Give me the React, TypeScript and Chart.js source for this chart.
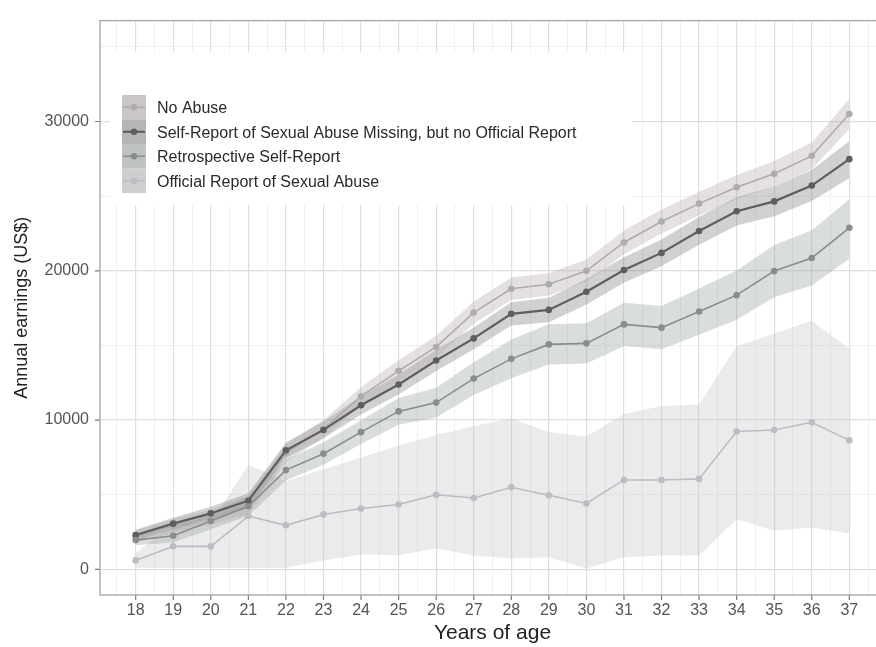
import React, { useEffect, useRef } from "react";
import { Chart, registerables } from "chart.js";

Chart.register(...registerables);

// Age in years (x axis)
const ages = [18, 19, 20, 21, 22, 23, 24, 25, 26, 27, 28, 29, 30, 31, 32, 33, 34, 35, 36, 37];

// Mean annual earnings (US$) with lower / upper confidence bounds per group
const noAbuse = [2200, 2900, 3500, 4300, 7800, 9400, 11600, 13300, 14900, 17200, 18800, 19100, 20000, 21900, 23300, 24500, 25600, 26500, 27700, 30500];
const noAbuseHi = [2600, 3350, 4000, 4900, 8400, 10000, 12200, 14000, 15650, 17950, 19550, 19850, 20750, 22700, 24100, 25300, 26400, 27350, 28600, 31500];
const noAbuseLo = [1800, 2450, 3000, 3700, 7200, 8800, 11000, 12600, 14150, 16450, 18050, 18350, 19250, 21100, 22500, 23700, 24800, 25650, 26800, 29500];

const selfMissing = [2300, 3060, 3750, 4600, 7980, 9340, 10990, 12380, 13990, 15470, 17120, 17380, 18600, 20050, 21200, 22670, 23990, 24650, 25710, 27480];
const selfMissingHi = [2650, 3450, 4200, 5100, 8500, 9900, 11600, 13050, 14700, 16200, 17900, 18200, 19450, 20900, 22100, 23600, 24950, 25650, 26750, 28700];
const selfMissingLo = [1950, 2670, 3300, 4100, 7460, 8780, 10380, 11710, 13280, 14740, 16340, 16560, 17750, 19200, 20300, 21740, 23030, 23650, 24670, 26200];

const retrospective = [1960, 2250, 3240, 4230, 6650, 7750, 9190, 10580, 11170, 12780, 14100, 15070, 15140, 16410, 16190, 17270, 18370, 19980, 20860, 22880];
const retrospectiveHi = [2310, 2700, 3790, 4880, 7350, 8500, 9990, 11480, 12170, 13880, 15400, 16420, 16490, 17860, 17640, 18820, 20020, 21730, 22710, 24800];
const retrospectiveLo = [1610, 1800, 2690, 3580, 5950, 7000, 8390, 9680, 10170, 11680, 12800, 13720, 13790, 14960, 14740, 15720, 16720, 18230, 19010, 20800];

const official = [600, 1540, 1540, 3570, 2950, 3680, 4080, 4340, 5000, 4780, 5500, 4960, 4410, 5990, 5990, 6060, 9230, 9340, 9850, 8640];
const officialHi = [1100, 3000, 3100, 7000, 5900, 6700, 7500, 8300, 9000, 9600, 10100, 9200, 8900, 10400, 10950, 11050, 14950, 15800, 16650, 14800];
const officialLo = [100, 100, 100, 100, 100, 590, 1000, 950, 1390, 930, 730, 810, 50, 810, 920, 920, 3350, 2580, 2800, 2400];

// Axis breaks
const yMajorTicks = [0, 10000, 20000, 30000];
const yMinorTicks = [5000, 15000, 25000, 35000];

const groupLabels = [
  "No Abuse",
  "Self-Report of Sexual Abuse Missing, but no Official Report",
  "Retrospective Self-Report",
  "Official Report of Sexual Abuse",
];

const FONT = "'Liberation Sans', Arial, Helvetica, sans-serif";

const groups = [
  { label: groupLabels[0], mean: noAbuse, lo: noAbuseLo, hi: noAbuseHi, line: "#acacac", fill: "rgba(178,166,166,0.34)", width: 1.6 },
  { label: groupLabels[1], mean: selfMissing, lo: selfMissingLo, hi: selfMissingHi, line: "#5e5e5e", fill: "rgba(120,120,120,0.34)", width: 2.2 },
  { label: groupLabels[2], mean: retrospective, lo: retrospectiveLo, hi: retrospectiveHi, line: "#8c8c8c", fill: "rgba(145,155,150,0.34)", width: 1.6 },
  { label: groupLabels[3], mean: official, lo: officialLo, hi: officialHi, line: "#bdbdc1", fill: "rgba(188,188,196,0.3)", width: 1.6 },
];

const toPoints = (vals: number[]) => ages.map((a, i) => ({ x: a, y: vals[i] }));

const xGridValues = [ages[0] - 0.5, ...ages.flatMap((a) => [a, a + 0.5])];
const yGridValues = [...yMajorTicks, ...yMinorTicks].sort((a, b) => a - b);

const panelPlugin = {
  id: "panelDecor",
  afterDatasetsDraw(chart: any) {
    const { ctx, chartArea, scales } = chart;
    ctx.save();
    // axis tick marks
    ctx.strokeStyle = "#7a7a7a";
    ctx.lineWidth = 1.2;
    ctx.beginPath();
    for (const a of ages) {
      const px = scales.x.getPixelForValue(a);
      ctx.moveTo(px, chartArea.bottom);
      ctx.lineTo(px, chartArea.bottom + 5);
    }
    for (const v of yMajorTicks) {
      const py = scales.y.getPixelForValue(v);
      ctx.moveTo(chartArea.left - 5, py);
      ctx.lineTo(chartArea.left, py);
    }
    ctx.stroke();
    // panel border
    ctx.strokeStyle = "#a9a9a9";
    ctx.lineWidth = 1.4;
    ctx.strokeRect(chartArea.left, chartArea.top, chartArea.right - chartArea.left, chartArea.bottom - chartArea.top);
    ctx.restore();
  },
  afterDraw(chart: any) {
    const { ctx } = chart;
    ctx.save();
    // legend box
    ctx.fillStyle = "#ffffff";
    ctx.fillRect(110, 52, 522, 153);
    const keyX = 122;
    const keyW = 24;
    const keyTop = 95;
    const keyH = 24.5;
    groups.forEach((g, i) => {
      const top = keyTop + i * keyH;
      const cy = top + keyH / 2;
      ctx.fillStyle = "#d6d6d6";
      ctx.fillRect(keyX, top, keyW, keyH);
      ctx.fillStyle = g.fill;
      ctx.fillRect(keyX, top, keyW, keyH);
      ctx.strokeStyle = g.line;
      ctx.lineWidth = g.width;
      ctx.beginPath();
      ctx.moveTo(keyX + 1, cy);
      ctx.lineTo(keyX + keyW - 1, cy);
      ctx.stroke();
      ctx.fillStyle = g.line;
      ctx.beginPath();
      ctx.arc(keyX + keyW / 2, cy, 3.2, 0, Math.PI * 2);
      ctx.fill();
      ctx.fillStyle = "#2a2a2a";
      ctx.font = `16px ${FONT}`;
      ctx.textAlign = "left";
      ctx.textBaseline = "middle";
      ctx.fillText(g.label, 157, cy + 1.5);
    });
    ctx.restore();
  },
};

export default function App() {
  const canvasRef = useRef<HTMLCanvasElement | null>(null);

  useEffect(() => {
    const canvas = canvasRef.current;
    if (!canvas) return;

    const ribbonSets = groups.flatMap((g) => [
      {
        label: g.label + " upper",
        data: toPoints(g.hi),
        borderWidth: 0,
        pointRadius: 0,
        pointHoverRadius: 0,
        fill: false,
      },
      {
        label: g.label + " lower",
        data: toPoints(g.lo),
        borderWidth: 0,
        pointRadius: 0,
        pointHoverRadius: 0,
        backgroundColor: g.fill,
        fill: "-1",
      },
    ]);

    const lineSets = groups.map((g) => ({
      label: g.label,
      data: toPoints(g.mean),
      borderColor: g.line,
      borderWidth: g.width,
      pointRadius: 3.3,
      pointHoverRadius: 3.3,
      pointBackgroundColor: g.line,
      pointBorderWidth: 0,
      tension: 0,
      fill: false,
    }));

    const chart = new Chart(canvas, {
      type: "line",
      data: { datasets: [...lineSets.slice().reverse(), ...ribbonSets] as any },
      options: {
        animation: false,
        responsive: false,
        devicePixelRatio: 1,
        events: [],
        layout: { padding: { top: 12.7, right: 15, left: 0, bottom: 0 } },
        plugins: {
          legend: { display: false },
          tooltip: { enabled: false },
          filler: { drawTime: "beforeDatasetsDraw", propagate: false },
        } as any,
        scales: {
          x: {
            type: "linear",
            min: 17.05,
            max: 37.95,
            afterBuildTicks: (s: any) => {
              s.ticks = xGridValues.map((v) => ({ value: v }));
            },
            afterFit: (s: any) => {
              s.height = 52;
            },
            grid: {
              drawTicks: false,
              color: (c: any) => (Number.isInteger(c.tick?.value) ? "#dedede" : "#ececec"),
              lineWidth: (c: any) => (Number.isInteger(c.tick?.value) ? 1.2 : 0.8),
            },
            border: { display: false },
            ticks: {
              autoSkip: false,
              maxRotation: 0,
              padding: 6,
              color: "#555555",
              font: { family: FONT, size: 16 },
              callback: (v: any) => (Number.isInteger(v) ? String(v) : ""),
            },
            title: {
              display: true,
              text: "Years of age",
              color: "#222222",
              font: { family: FONT, size: 21 },
              padding: { top: 0, bottom: 1 },
            },
          },
          y: {
            type: "linear",
            min: -1718,
            max: 36760,
            afterBuildTicks: (s: any) => {
              s.ticks = yGridValues.map((v) => ({ value: v }));
            },
            afterFit: (s: any) => {
              s.width = 100;
            },
            grid: {
              drawTicks: false,
              color: (c: any) => (yMajorTicks.includes(c.tick?.value) ? "#dedede" : "#ececec"),
              lineWidth: (c: any) => (yMajorTicks.includes(c.tick?.value) ? 1.2 : 0.8),
            },
            border: { display: false },
            ticks: {
              autoSkip: false,
              padding: 11,
              color: "#555555",
              font: { family: FONT, size: 16 },
              callback: (v: any) => (yMajorTicks.includes(v) ? String(v) : ""),
            },
            title: {
              display: true,
              text: "Annual earnings (US$)",
              color: "#222222",
              font: { family: FONT, size: 18 },
              padding: { top: 11, bottom: 0 },
            },
          },
        },
      },
      plugins: [panelPlugin],
    });

    return () => chart.destroy();
  }, []);

  return (
    <div style={{ position: "absolute", left: 0, top: 0, width: 876, height: 647, overflow: "hidden", background: "#ffffff" }}>
      <canvas ref={canvasRef} width={900} height={647} style={{ display: "block" }} />
    </div>
  );
}
